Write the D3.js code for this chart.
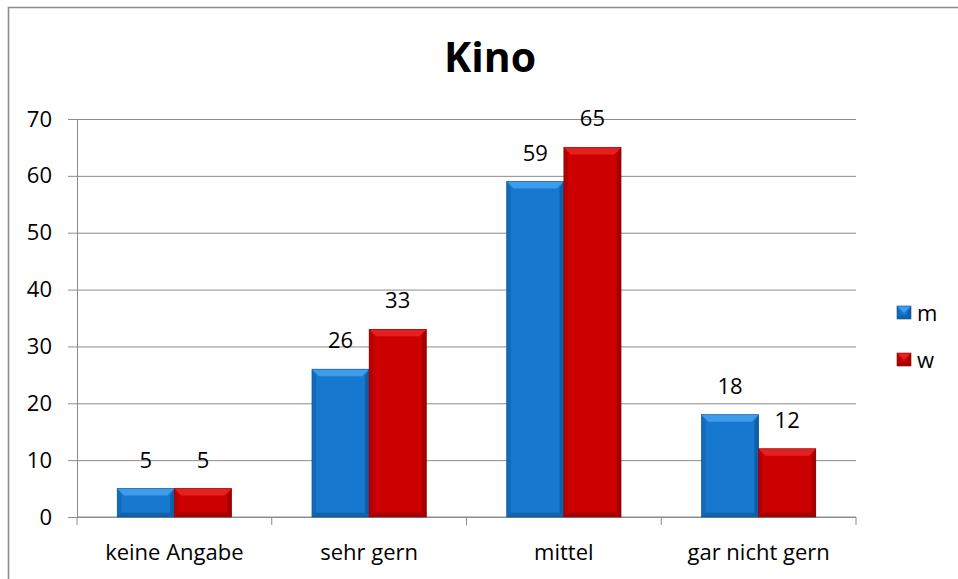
<!DOCTYPE html>
<html>
<head>
<meta charset="utf-8">
<script src="https://cdn.jsdelivr.net/npm/d3@7"></script>
<style>
  body { margin: 0; background: #fff; }
  svg text { font-family: "Open Sans", "Noto Sans", sans-serif; fill: #000; }
</style>
</head>
<body>
<div id="chart"></div>
<script>
// Kino: grouped bars, m vs w, Excel-style bevelled columns.

const CATEGORIES = ["keine Angabe", "sehr gern", "mittel", "gar nicht gern"];
const SERIES     = ["m", "w"];
const VALUES_M   = [5, 26, 59, 18];
const VALUES_W   = [5, 33, 65, 12];
const Y_TICKS    = [0, 10, 20, 30, 40, 50, 60, 70];

const COLORS = {
  m: { main: "#1778cf", top: "#3d9cec", side: "#0f5ea8", bottom: "#0c5396" },
  w: { main: "#cc0000", top: "#e42020", side: "#a30000", bottom: "#8e0000" },
};

const W = 958, H = 579;
const margin = { top: 119, right: 102, bottom: 62, left: 77 };
const innerW = W - margin.left - margin.right;
const innerH = H - margin.top - margin.bottom;
const FONT = "22px";

const svg = d3.select("#chart").append("svg")
  .attr("width", W).attr("height", H);

// outer frame (cropped on the right and bottom)
svg.append("path")
  .attr("d", `M8.5,${H + 5} V7.5 H${W + 5}`)
  .attr("fill", "none").attr("stroke", "#8c8c8c").attr("stroke-width", 1.6);

svg.append("text")
  .attr("x", 490).attr("y", 72)
  .attr("text-anchor", "middle")
  .style("font-size", "41px").style("font-weight", "bold")
  .text("Kino");

const g = svg.append("g").attr("transform", `translate(${margin.left},${margin.top})`);

const x0 = d3.scaleBand().domain(CATEGORIES).range([0, innerW]).paddingInner(0).paddingOuter(0);
const x1 = d3.scaleBand().domain(SERIES).range([x0.bandwidth() * 0.2065, x0.bandwidth() * 0.7935]);
const y  = d3.scaleLinear().domain([0, 70]).range([innerH, 0]);

// gridlines + y axis
g.append("g")
  .call(d3.axisLeft(y).tickValues(Y_TICKS).tickSize(9).tickPadding(16))
  .call(ax => ax.select(".domain").attr("stroke", "#8c8c8c"))
  .call(ax => ax.selectAll(".tick line").attr("stroke", "#8c8c8c"))
  .call(ax => ax.selectAll(".tick line").clone().attr("x1", 0).attr("x2", innerW).attr("stroke", "#8c8c8c"))
  .call(ax => ax.selectAll("text").style("font-size", FONT).style("font-family", '"Open Sans", sans-serif').attr("fill", "#000"));

// x axis with category boundary ticks
const xa = g.append("g").attr("transform", `translate(0,${innerH})`);
xa.append("line").attr("x1", 0).attr("x2", innerW).attr("stroke", "#8c8c8c");
xa.selectAll("line.tk")
  .data(d3.range(CATEGORIES.length + 1))
  .join("line").attr("class", "tk")
  .attr("x1", i => i * x0.step()).attr("x2", i => i * x0.step())
  .attr("y1", 0).attr("y2", 8).attr("stroke", "#8c8c8c");
xa.selectAll("text")
  .data(CATEGORIES)
  .join("text")
  .attr("x", d => x0(d) + x0.bandwidth() / 2)
  .attr("y", 43)
  .attr("text-anchor", "middle")
  .style("font-size", FONT)
  .text(d => d);

// bevelled bar
function bar(sel, x, yTop, w, h, c) {
  const b = Math.min(7, h / 2, w / 2);
  const bg = sel.append("g");
  bg.append("rect").attr("x", x).attr("y", yTop).attr("width", w).attr("height", h).attr("fill", c.main);
  bg.append("polygon").attr("fill", c.top)
    .attr("points", [[x, yTop], [x + w, yTop], [x + w - b, yTop + b], [x + b, yTop + b]].join(" "));
  bg.append("polygon").attr("fill", c.side)
    .attr("points", [[x + w, yTop], [x + w, yTop + h], [x + w - b * 0.6, yTop + h - b * 0.6], [x + w - b * 0.6, yTop + b]].join(" "));
  bg.append("polygon").attr("fill", c.side).attr("opacity", 0.55)
    .attr("points", [[x, yTop], [x, yTop + h], [x + b * 0.6, yTop + h - b * 0.6], [x + b * 0.6, yTop + b]].join(" "));
  bg.append("polygon").attr("fill", c.bottom).attr("opacity", 0.6)
    .attr("points", [[x, yTop + h], [x + w, yTop + h], [x + w - b * 0.6, yTop + h - b * 0.6], [x + b * 0.6, yTop + h - b * 0.6]].join(" "));
  bg.append("rect").attr("x", x).attr("y", yTop).attr("width", w).attr("height", h)
    .attr("fill", "none").attr("stroke", c.bottom).attr("stroke-width", 0.6);
}

const data = [];
CATEGORIES.forEach((cat, i) => {
  data.push({ cat, s: "m", v: VALUES_M[i] });
  data.push({ cat, s: "w", v: VALUES_W[i] });
});

const bars = g.append("g");
data.forEach(d => {
  const x = x0(d.cat) + x1(d.s);
  bar(bars, x, y(d.v), x1.bandwidth(), y(0) - y(d.v), COLORS[d.s]);
});

g.append("g").selectAll("text")
  .data(data)
  .join("text")
  .attr("x", d => x0(d.cat) + x1(d.s) + x1.bandwidth() / 2)
  .attr("y", d => y(d.v) - 21)
  .attr("text-anchor", "middle")
  .style("font-size", FONT)
  .text(d => d.v);

// legend
const lg = svg.append("g").attr("transform", "translate(897,306)");
SERIES.forEach((s, i) => {
  const row = lg.append("g").attr("transform", `translate(0,${i * 47})`);
  bar(row, 0, 0, 14, 13, COLORS[s]);
  row.append("text").attr("x", 20).attr("y", 15).style("font-size", FONT).text(s);
});
</script>
</body>
</html>
